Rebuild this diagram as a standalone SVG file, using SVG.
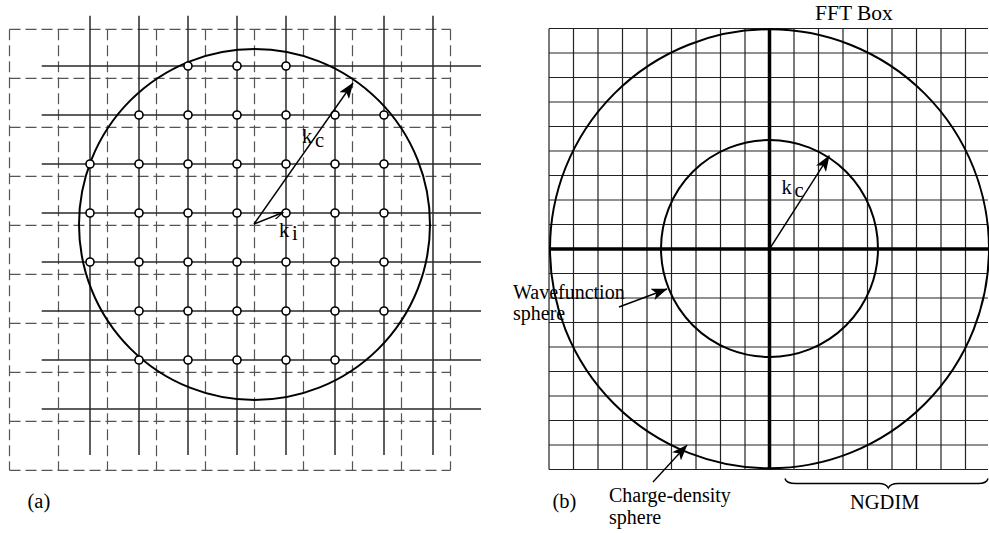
<svg xmlns="http://www.w3.org/2000/svg" width="989" height="533" viewBox="0 0 989 533">
<style>
.dash{stroke:#555;stroke-width:1.2;stroke-dasharray:11 5;fill:none}
.solid{stroke:#2a2a2a;stroke-width:1.5;fill:none}
.fine{stroke:#222;stroke-width:1.2;fill:none}
.axis{stroke:#000;stroke-width:3.5;fill:none}
.circ{stroke:#000;stroke-width:2;fill:none}
.dot{fill:#fff;stroke:#000;stroke-width:1.6}
.arr{stroke:#000;stroke-width:1.4;fill:none}
text{font-family:"Liberation Serif","Times New Roman",serif;font-size:20.5px;fill:#000}
.big{font-size:21.5px}
.lbl{font-size:20px}
</style>
<defs>
<marker id="fa" viewBox="0 0 16 12" refX="15.5" refY="6" markerWidth="16" markerHeight="12" orient="auto" markerUnits="userSpaceOnUse"><path d="M0,0 L16,6 L0,12 L4,6 Z" fill="#000"/></marker>
<marker id="oa" viewBox="0 0 10 8" refX="9.5" refY="4" markerWidth="10" markerHeight="8" orient="auto" markerUnits="userSpaceOnUse"><path d="M0,0.5 L9.5,4 L0,7.5" fill="none" stroke="#000" stroke-width="1.2"/></marker>
</defs>
<rect width="989" height="533" fill="#fff"/>
<g id="panel-a">
<path class="dash" d="M9.5,29.3V470.3M58.5,29.3V470.3M107.5,29.3V470.3M156.5,29.3V470.3M205.5,29.3V470.3M254.5,29.3V470.3M303.5,29.3V470.3M352.5,29.3V470.3M401.5,29.3V470.3M450.5,29.3V470.3M9.5,29.3H450.5M9.5,78.3H450.5M9.5,127.3H450.5M9.5,176.3H450.5M9.5,225.3H450.5M9.5,274.3H450.5M9.5,323.3H450.5M9.5,372.3H450.5M9.5,421.3H450.5M9.5,470.3H450.5"/>
<path class="solid" d="M90,15.7V455M139,15.7V455M188,15.7V455M237,15.7V455M286,15.7V455M335,15.7V455M384,15.7V455M433,15.7V455M41.7,66H481M41.7,115H481M41.7,164H481M41.7,213H481M41.7,262H481M41.7,311H481M41.7,360H481M41.7,409H481"/>
<circle class="circ" cx="254.5" cy="224.5" r="175.5"/>
<g id="dots">
<circle class="dot" cx="188" cy="66" r="4"/><circle class="dot" cx="237" cy="66" r="4"/><circle class="dot" cx="286" cy="66" r="4"/>
<circle class="dot" cx="139" cy="115" r="4"/><circle class="dot" cx="188" cy="115" r="4"/><circle class="dot" cx="237" cy="115" r="4"/><circle class="dot" cx="286" cy="115" r="4"/><circle class="dot" cx="335" cy="115" r="4"/><circle class="dot" cx="384" cy="115" r="4"/>
<circle class="dot" cx="90" cy="164" r="4"/><circle class="dot" cx="139" cy="164" r="4"/><circle class="dot" cx="188" cy="164" r="4"/><circle class="dot" cx="237" cy="164" r="4"/><circle class="dot" cx="286" cy="164" r="4"/><circle class="dot" cx="335" cy="164" r="4"/><circle class="dot" cx="384" cy="164" r="4"/>
<circle class="dot" cx="90" cy="213" r="4"/><circle class="dot" cx="139" cy="213" r="4"/><circle class="dot" cx="188" cy="213" r="4"/><circle class="dot" cx="237" cy="213" r="4"/><circle class="dot" cx="286" cy="213" r="4"/><circle class="dot" cx="335" cy="213" r="4"/><circle class="dot" cx="384" cy="213" r="4"/>
<circle class="dot" cx="90" cy="262" r="4"/><circle class="dot" cx="139" cy="262" r="4"/><circle class="dot" cx="188" cy="262" r="4"/><circle class="dot" cx="237" cy="262" r="4"/><circle class="dot" cx="286" cy="262" r="4"/><circle class="dot" cx="335" cy="262" r="4"/><circle class="dot" cx="384" cy="262" r="4"/>
<circle class="dot" cx="139" cy="311" r="4"/><circle class="dot" cx="188" cy="311" r="4"/><circle class="dot" cx="237" cy="311" r="4"/><circle class="dot" cx="286" cy="311" r="4"/><circle class="dot" cx="335" cy="311" r="4"/><circle class="dot" cx="384" cy="311" r="4"/>
<circle class="dot" cx="139" cy="360" r="4"/><circle class="dot" cx="188" cy="360" r="4"/><circle class="dot" cx="237" cy="360" r="4"/><circle class="dot" cx="286" cy="360" r="4"/><circle class="dot" cx="335" cy="360" r="4"/>
</g>
<g id="arrows-a">
<line class="arr" x1="254" y1="224" x2="353" y2="83" marker-end="url(#fa)"/>
<line class="arr" x1="254" y1="224" x2="283" y2="212.5" marker-end="url(#oa)"/>
</g>
<text x="302" y="143">k</text><text x="315" y="147">c</text>
<text x="279" y="236.5">k</text><text x="292" y="239.5">i</text>
<text x="27.5" y="508">(a)</text>
</g>
<g id="panel-b">
<path class="fine" d="M549,28.5V469.5M573.5,28.5V469.5M598,28.5V469.5M622.5,28.5V469.5M647,28.5V469.5M671.5,28.5V469.5M696,28.5V469.5M720.5,28.5V469.5M745,28.5V469.5M794,28.5V469.5M818.5,28.5V469.5M843,28.5V469.5M867.5,28.5V469.5M892,28.5V469.5M916.5,28.5V469.5M941,28.5V469.5M965.5,28.5V469.5M549,28.5H988M549,53H988M549,77.5H988M549,102H988M549,126.5H988M549,151H988M549,175.5H988M549,200H988M549,224.5H988M549,273.5H988M549,298H988M549,322.5H988M549,347H988M549,371.5H988M549,396H988M549,420.5H988M549,445H988M549,469.5H988"/>
<path class="axis" d="M769.5,28.5V469.5M549,249H988"/>
<circle class="circ" cx="769.5" cy="248.8" r="219.5"/>
<circle class="circ" cx="769.5" cy="248.5" r="108.5"/>
<g id="arrows-b">
<line class="arr" x1="769.5" y1="249" x2="829.3" y2="155.7" marker-end="url(#fa)"/>
<line class="arr" x1="619" y1="307" x2="667" y2="289" marker-end="url(#fa)"/>
<line class="arr" x1="653" y1="482" x2="687" y2="445" marker-end="url(#fa)"/>
</g>
<path id="brace" class="arr" d="M785,478.5 Q786,483.5 796,483.5 L879,483.5 Q886,483.5 888.3,488 Q890.5,483.5 898,483.5 L978,483.5 Q987,483.5 988,478.5"/>
<text class="big" x="815" y="19.5">FFT Box</text>
<text x="781.5" y="194">k</text><text x="794.5" y="197">c</text>
<text class="lbl" x="513" y="298.5">Wavefunction</text>
<text class="lbl" x="513" y="320">sphere</text>
<text x="552.5" y="508.3">(b)</text>
<text class="lbl" x="609" y="501.5">Charge-density</text>
<text class="lbl" x="609" y="523.5">sphere</text>
<text x="850" y="509.3">NGDIM</text>
</g>
</svg>
